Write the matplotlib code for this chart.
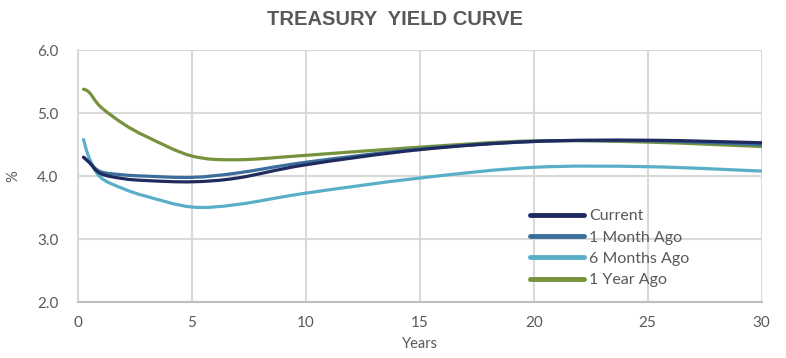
import numpy as np
import matplotlib.pyplot as plt
from matplotlib.path import Path
from matplotlib.patches import PathPatch
from matplotlib.lines import Line2D

# maturities in years
maturities = [0.25, 0.5, 1, 2, 3, 5, 7, 10, 15, 20, 25, 30]

current = [4.30, 4.22, 4.04, 3.96, 3.93, 3.91, 3.97, 4.18, 4.42, 4.55, 4.57, 4.53]
month_ago = [4.30, 4.22, 4.07, 4.02, 4.00, 3.98, 4.05, 4.22, 4.43, 4.55, 4.56, 4.50]
six_months_ago = [4.58, 4.29, 3.98, 3.80, 3.68, 3.51, 3.55, 3.73, 3.97, 4.14, 4.15, 4.08]
year_ago = [5.38, 5.33, 5.10, 4.83, 4.63, 4.32, 4.26, 4.33, 4.46, 4.56, 4.54, 4.47]

labels = ["Current", "1 Month Ago", "6 Months Ago", "1 Year Ago"]
colors = ["#1f2a5e", "#3b6e9c", "#5aafc8", "#76923c"]


def smooth_path(x, y, tension=1 / 6):
    # excel-style smoothed line: catmull-rom segments as cubic bezier
    pts = np.column_stack([x, y]).astype(float)
    verts = [pts[0]]
    codes = [Path.MOVETO]
    n = len(pts)
    for i in range(n - 1):
        p0 = pts[i - 1] if i > 0 else pts[i]
        p1 = pts[i]
        p2 = pts[i + 1]
        p3 = pts[i + 2] if i + 2 < n else pts[i + 1]
        c1 = p1 + (p2 - p0) * tension
        c2 = p2 - (p3 - p1) * tension
        verts += [c1, c2, p2]
        codes += [Path.CURVE4] * 3
    return Path(verts, codes)


fig = plt.figure(figsize=(7.86, 3.58), dpi=100)
ax = fig.add_axes([0.099, 0.156, 0.870, 0.704])

series = [current, month_ago, six_months_ago, year_ago]
for vals, col in zip(series[::-1], colors[::-1]):
    patch = PathPatch(smooth_path(maturities, vals), facecolor="none",
                      edgecolor=col, lw=2.3, capstyle="round", zorder=3)
    ax.add_patch(patch)

ax.set_xlim(0, 30)
ax.set_ylim(2.0, 6.0)
ax.set_xticks(range(0, 31, 5))
ax.set_yticks(np.arange(2.0, 6.01, 1.0))
ax.set_yticklabels([f"{v:.1f}" for v in np.arange(2.0, 6.01, 1.0)])
ax.grid(True, color="#d9d9d9", lw=1.5, zorder=0)
for s in ax.spines.values():
    s.set_visible(False)
ax.spines["left"].set_visible(True)
ax.spines["bottom"].set_visible(True)
ax.spines["left"].set_color("#d9d9d9")
ax.spines["bottom"].set_color("#bfbfbf")
ax.spines["left"].set_linewidth(1.5)
ax.spines["bottom"].set_linewidth(1.5)
ax.tick_params(length=0, labelsize=11, colors="#595959")
ax.tick_params(axis="x", pad=10)
ax.tick_params(axis="y", pad=14)
for lab in ax.get_xticklabels() + ax.get_yticklabels():
    lab.set_family("Lato")

ax.set_xlabel("Years", fontsize=10.5, color="#595959", family="Lato", labelpad=5)
ax.set_ylabel("%", fontsize=10.5, color="#595959", family="Lato", labelpad=12)

fig.text(0.503, 0.945, "TREASURY  YIELD CURVE", ha="center", va="center",
         fontsize=14.5, fontweight="bold", color="#595959", family="Liberation Sans")

handles = [Line2D([], [], color=c, lw=3.5, solid_capstyle="round") for c in colors]
ax.legend(handles, labels, loc="upper left", bbox_to_anchor=(0.652, 0.395),
          frameon=False, handlelength=3.4, handletextpad=0.3, labelspacing=0.45,
          prop={"family": "Lato", "size": 11.5}, labelcolor="#595959",
          borderaxespad=0)

fig.savefig("out.png", dpi=100)
